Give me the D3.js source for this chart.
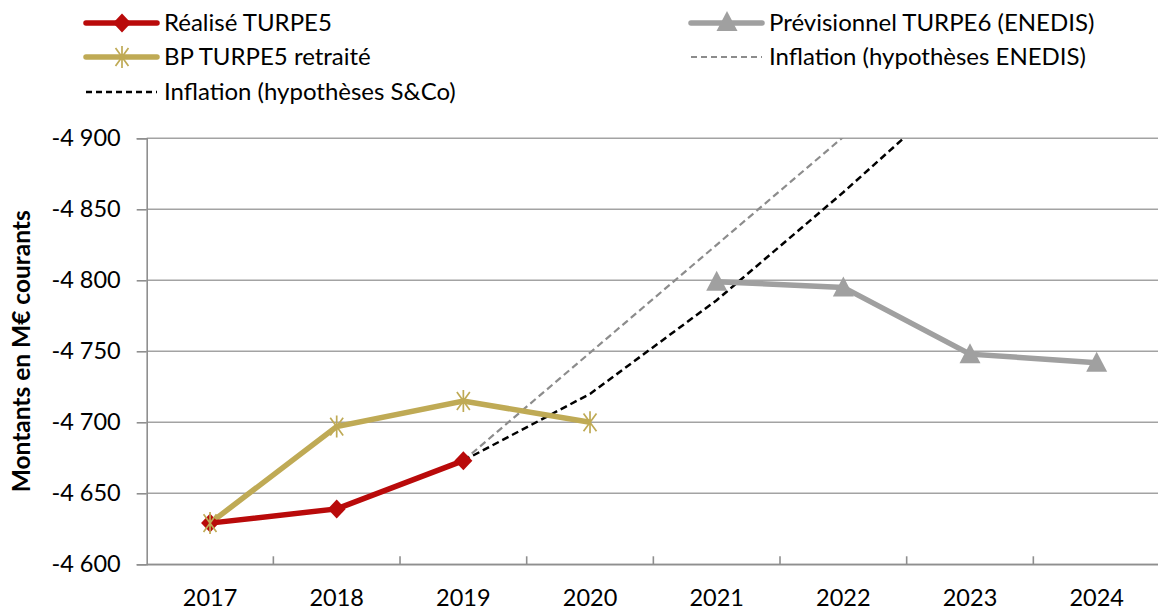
<!DOCTYPE html>
<html lang="fr">
<head>
<meta charset="UTF-8">
<title>TURPE</title>
<script src="https://d3js.org/d3.v7.min.js"></script>
<style>
  body { margin: 0; background: #fff; }
  svg text { font-family: Lato, "Open Sans", sans-serif; fill: #000; }
</style>
</head>
<body>
<div id="chart"></div>
<script>
const years = ["2017", "2018", "2019", "2020", "2021", "2022", "2023", "2024"];
const yTicks = [-4600, -4650, -4700, -4750, -4800, -4850, -4900];

const realise = [
  { year: "2017", v: -4629 }, { year: "2018", v: -4639 }, { year: "2019", v: -4673 }
];
const bpRetraite = [
  { year: "2017", v: -4629 }, { year: "2018", v: -4697 }, { year: "2019", v: -4715 }, { year: "2020", v: -4700 }
];
const previsionnel = [
  { year: "2021", v: -4799 }, { year: "2022", v: -4795 }, { year: "2023", v: -4748 }, { year: "2024", v: -4742 }
];
const inflEnedis = [
  { year: "2019", v: -4673 }, { year: "2020", v: -4749 }, { year: "2021", v: -4825 },
  { year: "2022", v: -4901 }, { year: "2023", v: -4978 }, { year: "2024", v: -5056 }
];
const inflSCo = [
  { year: "2019", v: -4673 }, { year: "2020", v: -4720 }, { year: "2021", v: -4786 },
  { year: "2022", v: -4862 }, { year: "2023", v: -4942 }, { year: "2024", v: -5024 }
];

const W = 1158, H = 613;
const plot = { left: 146.7, right: 1160, top: 138.3, bottom: 564.3 };

const svg = d3.select("#chart").append("svg")
  .attr("width", W).attr("height", H);

const x = d3.scaleBand().domain(years).range([plot.left, plot.right]);
const cx = d => x(d) + x.bandwidth() / 2;
const y = d3.scaleLinear().domain([-4600, -4900]).range([plot.bottom, plot.top]);

// gridlines
svg.append("g").selectAll("line").data(yTicks).join("line")
  .attr("x1", plot.left).attr("x2", W)
  .attr("y1", d => y(d)).attr("y2", d => y(d))
  .attr("stroke", "#a3a3a3").attr("stroke-width", 1.6);

// y axis
const fmt = v => "-" + d3.format(",")(Math.abs(v)).replace(",", " ");
const yAxis = svg.append("g").attr("transform", `translate(${plot.left},0)`)
  .call(d3.axisLeft(y).tickValues(yTicks).tickFormat(fmt).tickSize(10).tickPadding(16));
yAxis.select(".domain").attr("stroke", "#8f8f8f").attr("stroke-width", 1.6);
yAxis.selectAll(".tick line").attr("stroke", "#8f8f8f").attr("stroke-width", 1.6);
yAxis.selectAll("text").attr("font-size", 23.5).attr("font-family", "Lato, sans-serif").attr("fill", "#000");

// x axis
const xAxis = svg.append("g").attr("transform", `translate(0,${plot.bottom})`)
  .call(d3.axisBottom(x).tickSize(0).tickPadding(25));
xAxis.select(".domain").attr("stroke", "#8f8f8f").attr("stroke-width", 1.6);
xAxis.selectAll("text").attr("font-size", 23.5).attr("font-family", "Lato, sans-serif").attr("fill", "#000");
svg.append("g").selectAll("line").data(years.slice(1)).join("line")
  .attr("x1", d => x(d)).attr("x2", d => x(d))
  .attr("y1", plot.bottom).attr("y2", plot.bottom - 8)
  .attr("stroke", "#8f8f8f").attr("stroke-width", 1.6);

// y axis title
svg.append("text")
  .attr("transform", `translate(30,${(plot.top + plot.bottom) / 2}) rotate(-90)`)
  .attr("text-anchor", "middle")
  .attr("font-size", 24.5).attr("font-weight", "bold")
  .text("Montants en M€ courants");

svg.append("clipPath").attr("id", "clip").append("rect")
  .attr("x", plot.left).attr("y", plot.top)
  .attr("width", plot.right - plot.left).attr("height", plot.bottom - plot.top);

const line = d3.line().x(d => cx(d.year)).y(d => y(d.v));
const series = svg.append("g").attr("clip-path", "url(#clip)");

series.append("path").datum(inflEnedis).attr("d", line)
  .attr("fill", "none").attr("stroke", "#8c8c8c").attr("stroke-width", 2.2)
  .attr("stroke-dasharray", "7,4");
series.append("path").datum(inflSCo).attr("d", line)
  .attr("fill", "none").attr("stroke", "#000").attr("stroke-width", 2.5)
  .attr("stroke-dasharray", "7,4");

const red = "#b90a0a", gold = "#bfaa55", grey = "#a0a0a0";

// asterisk marker: vertical bar plus an X
function starPath(r) {
  const a = Math.PI * 0.3;
  const dx = r * Math.cos(a), dy = r * Math.sin(a);
  return `M0,${-r}L0,${r}M${-dx},${-dy}L${dx},${dy}M${-dx},${dy}L${dx},${-dy}`;
}
const diamond = "M0,-9.5L9,0L0,9.5L-9,0Z";
const triangle = "M0,-11L10.5,9L-10.5,9Z";

// BP TURPE5
series.append("path").datum(bpRetraite).attr("d", line)
  .attr("fill", "none").attr("stroke", gold).attr("stroke-width", 5.5);
// Réalisé
series.append("path").datum(realise).attr("d", line)
  .attr("fill", "none").attr("stroke", red).attr("stroke-width", 5.5);
series.append("g").selectAll("path").data(realise).join("path")
  .attr("transform", d => `translate(${cx(d.year)},${y(d.v)})`)
  .attr("d", diamond).attr("fill", red);
series.append("g").selectAll("path").data(bpRetraite).join("path")
  .attr("transform", d => `translate(${cx(d.year)},${y(d.v)})`)
  .attr("d", starPath(11)).attr("fill", "none").attr("stroke", gold).attr("stroke-width", 1.7);
// Prévisionnel
series.append("path").datum(previsionnel).attr("d", line)
  .attr("fill", "none").attr("stroke", grey).attr("stroke-width", 5.5);
series.append("g").selectAll("path").data(previsionnel).join("path")
  .attr("transform", d => `translate(${cx(d.year)},${y(d.v)})`)
  .attr("d", triangle).attr("fill", grey);

// legend
const legend = [
  { label: "Réalisé TURPE5", x: 86, y: 23, color: red, width: 5.5, marker: "diamond" },
  { label: "BP TURPE5 retraité", x: 86, y: 57, color: gold, width: 5.5, marker: "star" },
  { label: "Inflation (hypothèses S&Co)", x: 86, y: 92, color: "#000", width: 2.5, dash: "6,4" },
  { label: "Prévisionnel TURPE6 (ENEDIS)", x: 691, y: 23, color: grey, width: 5.5, marker: "triangle" },
  { label: "Inflation (hypothèses ENEDIS)", x: 691, y: 57, color: "#8c8c8c", width: 2.2, dash: "6,4" }
];
const lg = svg.append("g").selectAll("g").data(legend).join("g")
  .attr("transform", d => `translate(${d.x},${d.y})`);
lg.append("line").attr("x1", 0).attr("x2", 71).attr("y1", 0).attr("y2", 0)
  .attr("stroke", d => d.color).attr("stroke-width", d => d.width)
  .attr("stroke-linecap", d => d.dash ? "butt" : "round")
  .attr("stroke-dasharray", d => d.dash || null);
lg.filter(d => d.marker === "diamond").append("path")
  .attr("transform", "translate(36,0)").attr("d", diamond).attr("fill", d => d.color);
lg.filter(d => d.marker === "triangle").append("path")
  .attr("transform", "translate(36,-1)").attr("d", triangle).attr("fill", d => d.color);
lg.filter(d => d.marker === "star").append("path")
  .attr("transform", "translate(36,0)").attr("d", starPath(11))
  .attr("fill", "none").attr("stroke", d => d.color).attr("stroke-width", 1.7);
lg.append("text").attr("x", 78).attr("dy", "0.35em")
  .attr("font-size", 24).text(d => d.label);
</script>
</body>
</html>
